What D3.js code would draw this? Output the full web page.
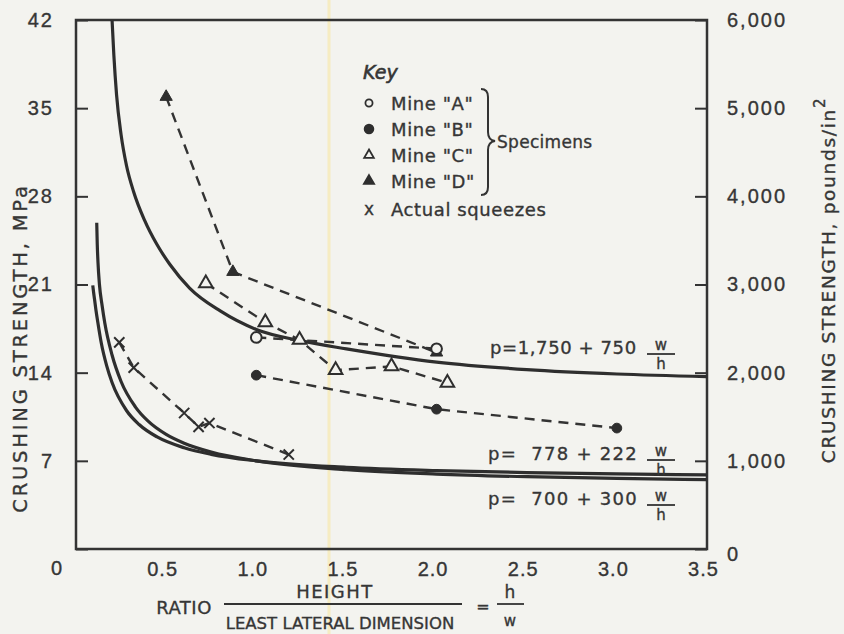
<!DOCTYPE html>
<html lang="en">
<head>
<meta charset="UTF-8">
<title>Crushing strength vs h/w</title>
<script src="https://cdn.jsdelivr.net/npm/d3@7"></script>
<style>
  html, body { margin: 0; padding: 0; background: #f3f3ef; }
  svg { display: block; font-family: "DejaVu Sans", sans-serif; }
  text { fill: #363636; stroke: #363636; stroke-width: 0.35px; }
  .tick line { stroke: #333; stroke-width: 2; }
  .tick text { font-size: 20px; letter-spacing: 2px; fill: #363636; }
  .curve { fill: none; stroke: #2e2e2e; stroke-width: 3.2; }
  .dash { fill: none; stroke: #333; stroke-width: 2.4; stroke-dasharray: 10 7; }
</style>
</head>
<body>
<svg id="chart"></svg>
<script>
// data
let ratioTicks = [0.5, 1.0, 1.5, 2.0, 2.5, 3.0, 3.5];
let mpaTicks = [0, 7, 14, 21, 28, 35, 42];
let psiTicks = [0, 1000, 2000, 3000, 4000, 5000, 6000];

// specimens: [h/w, MPa]
let mineA = [[1.0, 16.8], [2.0, 15.9]];
let mineB = [[1.0, 13.8], [2.0, 11.1], [3.0, 9.6]];
let mineC = [[0.72, 21.1], [1.05, 18.0], [1.24, 16.6], [1.44, 14.2], [1.75, 14.5], [2.06, 13.2]];
let mineD = [[0.5, 35.9], [0.87, 22.0], [2.0, 15.6]];
let squeezes = [[0.24, 16.4], [0.32, 14.4], [0.6, 10.8], [0.68, 9.7], [0.74, 10.0], [1.18, 7.5]];

// strength curves: [h/w, psi]
let curve1750 = [[0.2, 6000], [0.21, 5600], [0.225, 5150], [0.25, 4700], [0.28, 4350], [0.32, 4050],
  [0.38, 3730], [0.45, 3450], [0.52, 3230], [0.63, 2960], [0.8, 2700], [1.0, 2490], [1.25, 2360],
  [1.5, 2270], [2.0, 2120], [2.5, 2035], [3.0, 1985], [3.5, 1955]];
let curve700 = [[0.115, 3700], [0.118, 3450], [0.122, 3250], [0.13, 3000], [0.145, 2760], [0.16, 2560],
  [0.2, 2200], [0.25, 1900], [0.33, 1610], [0.4, 1450], [0.5, 1300], [0.6, 1200], [0.75, 1100],
  [1.0, 1000], [1.5, 900], [2.0, 850], [2.5, 820], [3.0, 800], [3.5, 786]];
let curve778 = [[0.093, 2990], [0.097, 2920], [0.103, 2830], [0.11, 2720], [0.122, 2560], [0.14, 2340],
  [0.17, 2080], [0.2, 1888], [0.28, 1571], [0.35, 1412], [0.45, 1271], [0.6, 1148], [0.75, 1074],
  [1.0, 1000], [1.5, 926], [2.0, 889], [2.5, 867], [3.0, 852], [3.5, 841]];

let width = 844;
let height = 634;
let frameL = 76, frameR = 707, frameT = 20, frameB = 549;

let svg = d3.select('#chart').attr('width', width).attr('height', height);

let x = d3.scaleLinear().domain([0, 3.5]).range([frameL, frameR]);
let yMpa = d3.scaleLinear().domain([0, 42]).range([frameB, frameT]);
let yPsi = d3.scaleLinear().domain([0, 6000]).range([frameB, frameT]);

// scan streak
svg.append('line').attr('x1', 329).attr('x2', 329).attr('y1', 0).attr('y2', height)
  .attr('stroke', '#f6ecc2').attr('stroke-width', 3);

// axes
let leftAxis = svg.append('g').attr('transform', 'translate(' + frameL + ',0)')
  .call(d3.axisLeft(yMpa).tickValues(mpaTicks).tickSizeInner(-12).tickSizeOuter(0).tickPadding(22));
leftAxis.select('.domain').remove();
leftAxis.selectAll('.tick text').filter(d => d === 0).attr('x', -12).attr('dy', '1.25em');

let rightAxis = svg.append('g').attr('transform', 'translate(' + frameR + ',0)')
  .call(d3.axisRight(yPsi).tickValues(psiTicks).tickSizeInner(-12).tickSizeOuter(0).tickPadding(20)
    .tickFormat(d3.format(',')));
rightAxis.select('.domain').remove();
rightAxis.selectAll('.tick text').filter(d => d === 0).attr('dy', '0.55em');

let bottomAxis = svg.append('g').attr('transform', 'translate(0,' + frameB + ')')
  .call(d3.axisBottom(x).tickValues(ratioTicks).tickSize(0).tickPadding(13).tickFormat(d3.format('.1f')));
bottomAxis.select('.domain').remove();
bottomAxis.selectAll('.tick text').attr('x', -4).style('letter-spacing', '1px');

// frame
svg.append('rect').attr('x', frameL).attr('y', frameT).attr('width', frameR - frameL).attr('height', frameB - frameT)
  .attr('fill', 'none').attr('stroke', '#333').attr('stroke-width', 2.5);

// curves
let psiLine = d3.line().x(d => x(d[0])).y(d => yPsi(d[1])).curve(d3.curveMonotoneX);
[curve1750, curve700, curve778].forEach(c => {
  svg.append('path').attr('class', 'curve').attr('d', psiLine(c));
});

// dashed specimen lines
let mpaLine = d3.line().x(d => x(d[0])).y(d => yMpa(d[1]));
[mineD, mineA, mineC, mineB, squeezes].forEach(s => {
  svg.append('path').attr('class', 'dash').attr('d', mpaLine(s));
});

// markers
let drawMarks = (data, type, size, filled) => {
  svg.append('g').selectAll('path').data(data).enter().append('path')
    .attr('transform', d => 'translate(' + x(d[0]) + ',' + yMpa(d[1]) + ')')
    .attr('d', d3.symbol(type, size))
    .attr('fill', filled ? '#2e2e2e' : '#f3f3ef')
    .attr('stroke', '#2e2e2e')
    .attr('stroke-width', filled ? 1 : 2);
};
drawMarks(mineD, d3.symbolTriangle, 65, true);
drawMarks(mineA, d3.symbolCircle, 90, false);
drawMarks(mineC, d3.symbolTriangle, 80, false);
drawMarks(mineB, d3.symbolCircle, 75, true);
drawMarks(squeezes, d3.symbolX, 70, false);

// legend
svg.append('text').attr('x', 363).attr('y', 79).text('Key')
  .style('font-size', '19px').style('font-style', 'italic').style('stroke-width', '0.6px');
let legendItems = [
  {label: 'Mine "A"', type: d3.symbolCircle, size: 40, filled: false},
  {label: 'Mine "B"', type: d3.symbolCircle, size: 60, filled: true},
  {label: 'Mine "C"', type: d3.symbolTriangle, size: 40, filled: false},
  {label: 'Mine "D"', type: d3.symbolTriangle, size: 45, filled: true},
  {label: 'Actual squeezes', type: null}
];
let legendY = [103, 129, 155, 181, 209];
legendItems.forEach((item, i) => {
  if (item.type) {
    svg.append('path').attr('transform', 'translate(369,' + legendY[i] + ')')
      .attr('d', d3.symbol(item.type, item.size))
      .attr('fill', item.filled ? '#2e2e2e' : 'none').attr('stroke', '#2e2e2e').attr('stroke-width', 1.8);
  } else {
    svg.append('text').attr('x', 369).attr('y', legendY[i] + 6).attr('text-anchor', 'middle')
      .text('x').style('font-size', '17px');
  }
  svg.append('text').attr('x', 391).attr('y', legendY[i] + 7).text(item.label)
    .style('font-size', '18px').style('letter-spacing', '0.6px');
});
// brace
svg.append('path')
  .attr('d', 'M481,89 Q488,89 488,97 L488,132 Q488,140 495,141 Q488,142 488,150 L488,187 Q488,195 481,195')
  .attr('fill', 'none').attr('stroke', '#333').attr('stroke-width', 2);
svg.append('text').attr('x', 497).attr('y', 148).text('Specimens')
  .style('font-size', '17px').style('letter-spacing', '0.3px');

// formula labels
let formula = (px, py, lhs, ls) => {
  svg.append('text').attr('x', px).attr('y', py).text(lhs).attr('xml:space', 'preserve')
    .style('font-size', '18px').style('letter-spacing', ls + 'px');
  svg.append('text').attr('x', 661).attr('y', py - 4).attr('text-anchor', 'middle').text('w')
    .style('font-size', '15px');
  svg.append('line').attr('x1', 647).attr('x2', 675).attr('y1', py).attr('y2', py)
    .attr('stroke', '#333').attr('stroke-width', 1.8);
  svg.append('text').attr('x', 661).attr('y', py + 15).attr('text-anchor', 'middle').text('h')
    .style('font-size', '15px');
};
formula(490, 354, 'p=1,750 + 750', 0.6);
formula(488, 460, 'p=  778 + 222', 1.3);
formula(488, 505, 'p=  700 + 300', 1.3);

// axis titles
svg.append('text').attr('transform', 'translate(27,348) rotate(-90)').attr('text-anchor', 'middle')
  .text('CRUSHING STRENGTH, MPa').style('font-size', '19.5px').style('letter-spacing', '2.8px');
let rt = svg.append('text').attr('transform', 'translate(835,280) rotate(-90)').attr('text-anchor', 'middle')
  .style('font-size', '18.5px').style('letter-spacing', '1.7px');
rt.append('tspan').text('CRUSHING STRENGTH, pounds/in');
rt.append('tspan').attr('dy', -10).style('font-size', '15px').text('2');

// x title
svg.append('text').attr('x', 184).attr('y', 614).attr('text-anchor', 'middle').text('RATIO')
  .style('font-size', '18px').style('letter-spacing', '0.5px');
svg.append('text').attr('x', 335).attr('y', 598).attr('text-anchor', 'middle').text('HEIGHT')
  .style('font-size', '18px').style('letter-spacing', '1.5px');
svg.append('line').attr('x1', 224).attr('x2', 462).attr('y1', 604).attr('y2', 604)
  .attr('stroke', '#333').attr('stroke-width', 1.8);
svg.append('text').attr('x', 340).attr('y', 629).attr('text-anchor', 'middle').text('LEAST LATERAL DIMENSION')
  .style('font-size', '16.5px');
svg.append('text').attr('x', 483).attr('y', 612).attr('text-anchor', 'middle').text('=')
  .style('font-size', '16px');
svg.append('text').attr('x', 510).attr('y', 598).attr('text-anchor', 'middle').text('h')
  .style('font-size', '17px');
svg.append('line').attr('x1', 497).attr('x2', 524).attr('y1', 604).attr('y2', 604)
  .attr('stroke', '#333').attr('stroke-width', 1.8);
svg.append('text').attr('x', 510).attr('y', 626).attr('text-anchor', 'middle').text('w')
  .style('font-size', '15px');
</script>
</body>
</html>
